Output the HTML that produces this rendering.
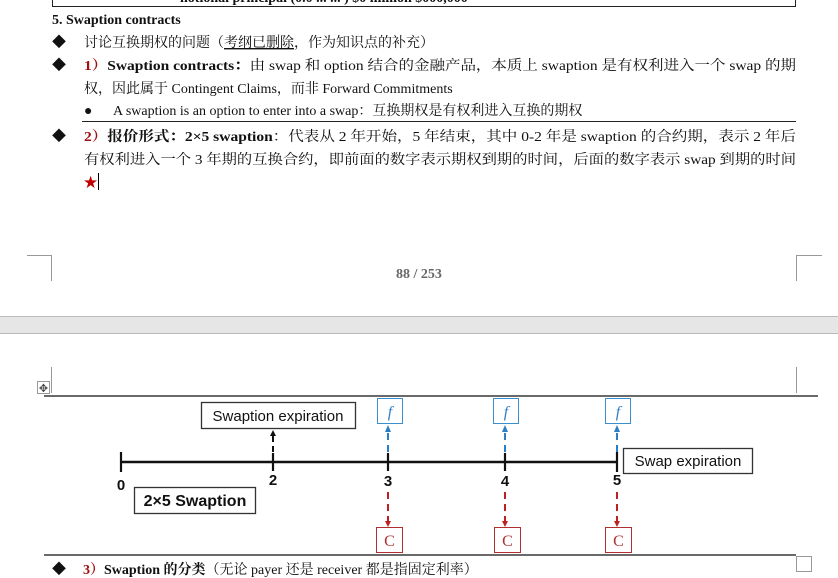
<!DOCTYPE html>
<html><head><meta charset="utf-8">
<style>
html,body{margin:0;padding:0;background:#fff;width:838px;height:578px;overflow:hidden}
svg{display:block}
.s{font-family:"Liberation Serif","Noto Serif CJK SC","Noto Sans CJK SC",serif;font-size:14px;fill:#111}
.b{font-weight:bold}
.r{fill:#a01010}
.d{font-family:"Liberation Sans",sans-serif;fill:#111}
</style></head><body>
<svg width="838" height="578" viewBox="0 0 838 578" xmlns="http://www.w3.org/2000/svg">
<line x1="52.5" y1="0" x2="52.5" y2="6.5" stroke="#222"/>
<line x1="795.5" y1="0" x2="795.5" y2="6.5" stroke="#222"/>
<line x1="52" y1="6.5" x2="796" y2="6.5" stroke="#222"/>
<text x="180" y="2" class="s b" font-size="11">notional principal   (0.0 ... ... )   $0 million   $000,000</text>

<text x="52" y="24" class="s b">5. Swaption contracts</text>

<text x="52" y="47" class="s">◆</text>
<text x="84" y="47" class="s">讨论互换期权的问题（<tspan text-decoration="underline">考纲已删除</tspan>，作为知识点的补充）</text>

<text x="52" y="70" class="s">◆</text>
<text x="84" y="70" class="s" textLength="712" lengthAdjust="spacingAndGlyphs"><tspan class="r b">1）</tspan><tspan class="b">Swaption contracts：</tspan>由 swap 和 option 结合的金融产品，本质上 swaption 是有权利进入一个 swap 的期</text>
<text x="84" y="93" class="s">权，因此属于 Contingent Claims，而非 Forward Commitments</text>

<text x="84" y="115" class="s">●</text>
<text x="113" y="115" class="s">A swaption is an option to enter into a swap：互换期权是有权利进入互换的期权</text>
<line x1="82" y1="121.5" x2="796" y2="121.5" stroke="#222"/>

<text x="52" y="141" class="s">◆</text>
<text x="84" y="141" class="s" textLength="712" lengthAdjust="spacingAndGlyphs"><tspan class="r b">2）</tspan><tspan class="b">报价形式：2×5 swaption</tspan>：代表从 2 年开始，5 年结束，其中 0-2 年是 swaption 的合约期，表示 2 年后</text>
<text x="84" y="164" class="s" textLength="712" lengthAdjust="spacingAndGlyphs">有权利进入一个 3 年期的互换合约，即前面的数字表示期权到期的时间，后面的数字表示 swap 到期的时间</text>
<text x="83" y="188" fill="#c00000" font-size="17" font-family="DejaVu Sans,sans-serif">★</text>
<line x1="98.5" y1="173" x2="98.5" y2="190" stroke="#000"/>

<path d="M27 255.5H51.5V281" fill="none" stroke="#999"/>
<path d="M822 255.5H796.5V281" fill="none" stroke="#999"/>
<text x="419" y="278" text-anchor="middle" class="s b" font-size="12" style="fill:#666">88 / 253</text>

<rect x="0" y="316" width="838" height="17" fill="#e6e6e6"/>
<line x1="0" y1="316.5" x2="838" y2="316.5" stroke="#bbb"/>
<line x1="0" y1="333.5" x2="838" y2="333.5" stroke="#bbb"/>

<path d="M51.5 367V393" stroke="#999"/>
<path d="M796.5 367V393" stroke="#999"/>
<rect x="37.5" y="381.5" width="12" height="12" fill="#fff" stroke="#999"/>
<text x="43.5" y="392" text-anchor="middle" font-size="11" fill="#444" font-family="DejaVu Sans,sans-serif">✥</text>

<line x1="44" y1="396" x2="818" y2="396" stroke="#111" stroke-width="1.2"/>
<line x1="121" y1="462" x2="617" y2="462" stroke="#111" stroke-width="2.5"/>
<g stroke="#111" stroke-width="2.2">
<line x1="121" y1="452" x2="121" y2="472"/>
<line x1="273" y1="453" x2="273" y2="471"/>
<line x1="388" y1="453" x2="388" y2="471"/>
<line x1="505" y1="453" x2="505" y2="471"/>
<line x1="617" y1="452" x2="617" y2="472"/>
</g>
<g font-size="15" font-weight="bold" text-anchor="middle">
<text x="121" y="490" class="d">0</text><text x="273" y="485" class="d">2</text>
<text x="388" y="486" class="d">3</text><text x="505" y="486" class="d">4</text><text x="617" y="485" class="d">5</text>
</g>
<rect x="201.5" y="402.5" width="154" height="26" fill="#fff" stroke="#333" stroke-width="1.3"/>
<text x="278" y="421" text-anchor="middle" class="d" font-size="15">Swaption expiration</text>
<line x1="273" y1="452" x2="273" y2="433" stroke="#111" stroke-width="2" stroke-dasharray="6,4"/>
<path d="M270 436L273 430L276 436Z" fill="#111"/>
<rect x="623.5" y="448.5" width="129" height="25" fill="#fff" stroke="#333" stroke-width="1.3"/>
<text x="688" y="466" text-anchor="middle" class="d" font-size="15">Swap expiration</text>
<rect x="134.5" y="487.5" width="121" height="26" fill="#fff" stroke="#333" stroke-width="1.3"/>
<text x="195" y="506" text-anchor="middle" class="d" font-size="16" font-weight="bold">2×5 Swaption</text>
<g>
<rect x="377.5" y="398.5" width="25" height="25" fill="#fff" stroke="#3a8fd0"/>
<rect x="493.5" y="398.5" width="25" height="25" fill="#fff" stroke="#3a8fd0"/>
<rect x="605.5" y="398.5" width="25" height="25" fill="#fff" stroke="#3a8fd0"/>
<g font-family="Liberation Serif,serif" font-style="italic" font-size="16" fill="#2a7ec4" text-anchor="middle">
<text x="390" y="417">f</text><text x="506" y="417">f</text><text x="618" y="417">f</text></g>
<g stroke="#2a7ec4" stroke-width="2" stroke-dasharray="7,5">
<line x1="388" y1="452" x2="388" y2="430"/><line x1="505" y1="452" x2="505" y2="430"/><line x1="617" y1="452" x2="617" y2="430"/></g>
<g fill="#2a7ec4"><path d="M385 432L388 425L391 432Z"/><path d="M502 432L505 425L508 432Z"/><path d="M614 432L617 425L620 432Z"/></g>
</g>
<g>
<g stroke="#c02020" stroke-width="2" stroke-dasharray="7,5">
<line x1="388" y1="492" x2="388" y2="522"/><line x1="505" y1="492" x2="505" y2="522"/><line x1="617" y1="492" x2="617" y2="522"/></g>
<g fill="#c02020"><path d="M385 521L388 527L391 521Z"/><path d="M502 521L505 527L508 521Z"/><path d="M614 521L617 527L620 521Z"/></g>
<rect x="376.5" y="527.5" width="26" height="25" fill="#fff" stroke="#b03030"/>
<rect x="494.5" y="527.5" width="26" height="25" fill="#fff" stroke="#b03030"/>
<rect x="605.5" y="527.5" width="26" height="25" fill="#fff" stroke="#b03030"/>
<g font-family="Liberation Serif,serif" font-size="16" fill="#b03030" text-anchor="middle">
<text x="389.5" y="546">C</text><text x="507.5" y="546">C</text><text x="618.5" y="546">C</text></g>
</g>
<line x1="44" y1="555" x2="796" y2="555" stroke="#111" stroke-width="1.2"/>
<rect x="796.5" y="556.5" width="15" height="15" fill="#fff" stroke="#999"/>

<text x="52" y="574" class="s">◆</text>
<text x="83" y="574" class="s"><tspan class="r b">3）</tspan><tspan class="b">Swaption 的分类</tspan>（无论 payer 还是 receiver 都是指固定利率）</text>
</svg>
</body></html>
